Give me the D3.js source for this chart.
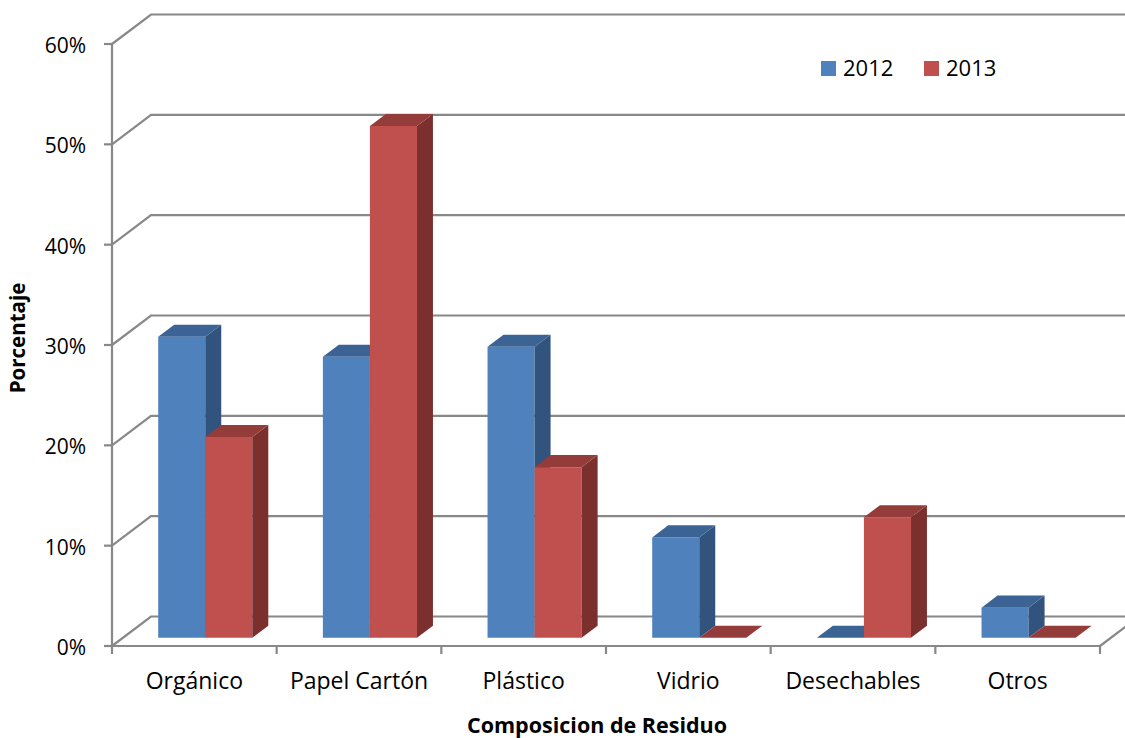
<!DOCTYPE html>
<html>
<head>
<meta charset="utf-8">
<script src="https://cdn.jsdelivr.net/npm/d3@7"></script>
<style>
  html, body { margin: 0; padding: 0; background: #ffffff; }
  svg { display: block; font-family: "Open Sans", "DejaVu Sans", sans-serif; }
</style>
</head>
<body>
<svg id="chart" width="1125" height="738"></svg>
<script>
// Waste composition by category, share of total
const categories = ["Orgánico", "Papel Cartón", "Plástico", "Vidrio", "Desechables", "Otros"];
const seriesNames = ["2012", "2013"];
const values2012 = [0.30, 0.28, 0.29, 0.10, 0.00, 0.03];
const values2013 = [0.20, 0.51, 0.17, 0.00, 0.12, 0.00];
const yTicks = [0, 0.1, 0.2, 0.3, 0.4, 0.5, 0.6];

const seriesValues = [values2012, values2013];
const palette = {
  "2012": { front: "#4F81BD", top: "#3B6394", side: "#31537D" },
  "2013": { front: "#C0504D", top: "#933C3A", side: "#7B302E" }
};

const svg = d3.select("#chart");

// front plane of the 3D box
const x = d3.scaleBand().domain(categories).range([112, 1100]).padding(0);
const y = d3.scaleLinear().domain([0, 0.6]).range([646, 44]);
// depth vector from the front plane to the back wall
const DX = 39, DY = -29.5;
// bars sit between these depth fractions
const F0 = 0.28, F1 = 0.69;

const xs = d3.scaleBand().domain(seriesNames).range([0, x.bandwidth()])
  .paddingInner(0).paddingOuter(0.75);

const P = (px, v, f) => [px + f * DX, y(v) + f * DY];
const poly = pts => "M" + pts.map(p => p.join(",")).join("L") + "Z";

const gridColor = "#888888";

// back wall gridlines and left wall diagonals
const grid = svg.append("g").attr("fill", "none").attr("stroke", gridColor).attr("stroke-width", 2.2);
yTicks.forEach(t => {
  const a = P(x.range()[0], t, 0), b = P(x.range()[0], t, 1), c = P(x.range()[1], t, 1);
  grid.append("path").attr("d", "M" + a + "L" + b + "L" + c);
});
// right edge of the floor
{
  const a = P(x.range()[1], 0, 0), b = P(x.range()[1], 0, 1);
  grid.append("path").attr("d", "M" + a + "L" + b);
}

// bars
const bars = svg.append("g");
categories.forEach((cat, i) => {
  seriesNames.forEach((s, k) => {
    const v = seriesValues[k][i];
    const x0 = x(cat) + xs(s), x1 = x0 + xs.bandwidth();
    const c = palette[s];
    const g = bars.append("g");
    if (v > 0) {
      g.append("path").attr("fill", c.front)
        .attr("d", poly([P(x0, 0, F0), P(x1, 0, F0), P(x1, v, F0), P(x0, v, F0)]));
      g.append("path").attr("fill", c.side)
        .attr("d", poly([P(x1, 0, F0), P(x1, 0, F1), P(x1, v, F1), P(x1, v, F0)]));
    }
    g.append("path").attr("fill", c.top)
      .attr("d", poly([P(x0, v, F0), P(x1, v, F0), P(x1, v, F1), P(x0, v, F1)]));
  });
});

// value axis
const axes = svg.append("g").attr("stroke", gridColor).attr("stroke-width", 2.2).attr("fill", "none");
axes.append("line").attr("x1", 112).attr("x2", 112).attr("y1", y(0.6)).attr("y2", y(0) + 1);
yTicks.forEach(t => {
  axes.append("line").attr("x1", 104).attr("x2", 112).attr("y1", y(t)).attr("y2", y(t));
});
// category axis
axes.append("line").attr("x1", x.range()[0]).attr("x2", x.range()[1]).attr("y1", y(0)).attr("y2", y(0));
const bounds = categories.map(c => x(c)).concat([x.range()[1]]);
bounds.forEach(b => {
  axes.append("line").attr("x1", b).attr("x2", b).attr("y1", y(0)).attr("y2", y(0) + 8);
});

// tick labels
const pct = d3.format(".0%");
svg.append("g").selectAll("text").data(yTicks).join("text")
  .attr("x", 86).attr("y", d => y(d) + 9)
  .attr("text-anchor", "end").attr("font-size", 21).attr("fill", "#000")
  .text(d => pct(d));

svg.append("g").selectAll("text").data(categories).join("text")
  .attr("x", d => x(d) + x.bandwidth() / 2).attr("y", 689)
  .attr("text-anchor", "middle").attr("font-size", 23).attr("fill", "#000")
  .text(d => d);

// axis titles
svg.append("text")
  .attr("transform", "translate(25,338) rotate(-90)")
  .attr("text-anchor", "middle").attr("font-size", 20.5).attr("font-weight", "bold")
  .text("Porcentaje");
svg.append("text")
  .attr("x", 597).attr("y", 733)
  .attr("text-anchor", "middle").attr("font-size", 21.5).attr("font-weight", "bold")
  .text("Composicion de Residuo");

// legend
const legend = svg.append("g");
const legendX = [821, 924];
seriesNames.forEach((s, k) => {
  legend.append("rect").attr("x", legendX[k]).attr("y", 61).attr("width", 15).attr("height", 15)
    .attr("fill", palette[s].front);
  legend.append("text").attr("x", legendX[k] + 22).attr("y", 76)
    .attr("font-size", 22).attr("fill", "#000").text(s);
});
</script>
</body>
</html>
